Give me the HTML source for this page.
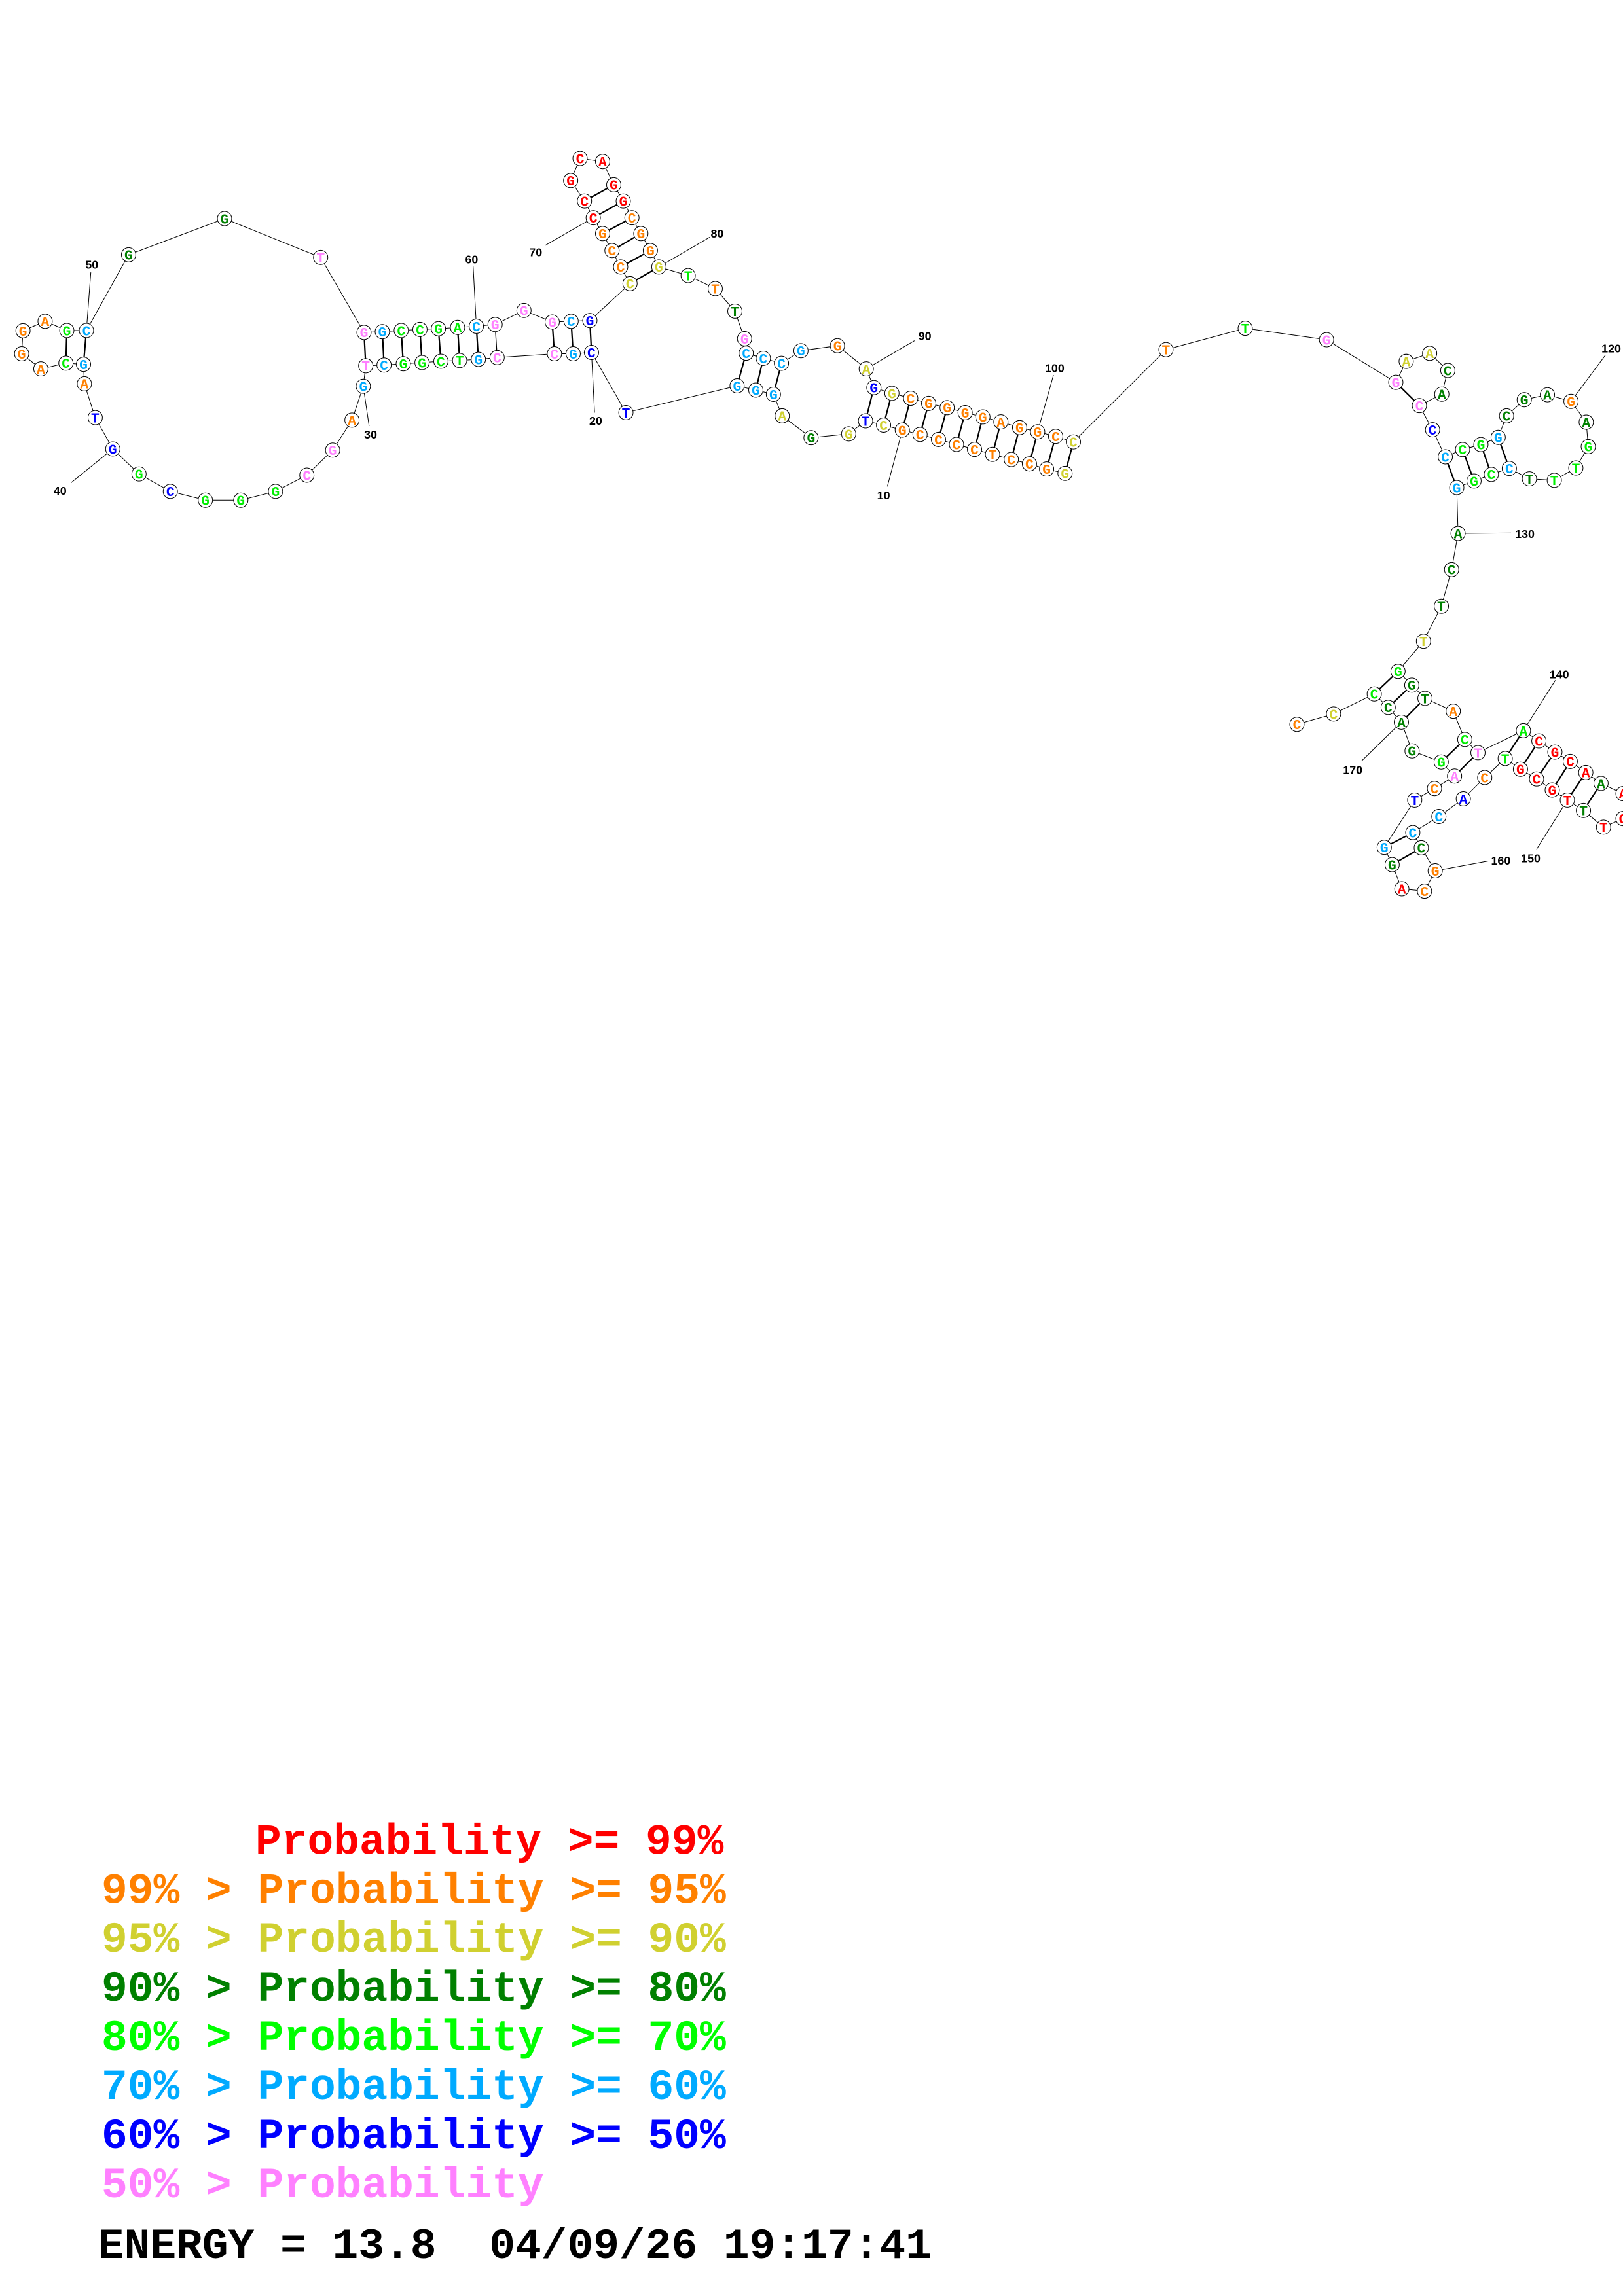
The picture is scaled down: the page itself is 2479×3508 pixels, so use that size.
<!DOCTYPE html>
<html><head><meta charset="utf-8"><style>
html,body{margin:0;padding:0;background:#fff;}
svg{display:block;}
.n circle{fill:#fff;stroke:#000;stroke-width:0.45;}
.n text{font-family:"Liberation Mono",monospace;font-weight:bold;font-size:9.5px;text-anchor:middle;}
.R{fill:#ff0000}.O{fill:#ff8000}.Y{fill:#d0d030}.D{fill:#008000}.L{fill:#00ee00}.B{fill:#00aaff}.N{fill:#0000ff}.P{fill:#ff80ff}
.lab{font-family:"Liberation Sans",sans-serif;font-weight:bold;font-size:8px;fill:#000;text-anchor:middle;}
.lg{font-family:"Liberation Mono",monospace;font-weight:bold;font-size:29.6px;}
</style></head><body>
<svg width="2479" height="3508" viewBox="0 0 1108 1568" preserveAspectRatio="none" xmlns="http://www.w3.org/2000/svg">
<rect width="1108" height="1568" fill="#fff"/>
<polyline fill="none" stroke="#000" stroke-width="0.45" points="727.1,323.3 714.5,320.3 702.8,316.8 690.4,313.8 677.6,310.3 665.3,306.9 653,303.5 640.7,300.1 628.1,296.7 616,293.7 603.2,290.3 590.9,287.4 579.4,296.3 553.7,298.9 534,284 528,269.3 516,266.4 503.2,263.5 427.3,281.8 403.8,240.7 391.3,241.6 378.5,241.6 339.4,244.2 326.6,245.4 313.8,246.2 301,246.7 288.1,247.6 275.3,248.4 262.2,249.3 249.7,249.8 248,263.8 240.3,286.9 227.1,307.4 209.5,324.5 188.1,335.6 164.4,341.6 140.2,341.6 116.3,335.6 94.9,323.7 77,306.6 65,285.2 57.6,262.1 57,248.8 45,248 27.9,251.9 14.8,241.6 15.7,225.9 30.8,219.4 45.6,225.7 59,225.7 87.8,174 153.3,149.3 218.9,175.8 248.5,227 261,226.5 273.9,225.7 286.7,225 299.3,224.5 312.4,223.6 325.2,222.8 338,221.6 357.7,212 377,219.9 389.9,219.4 402.7,218.9 430.1,193.7 423.7,182.3 417.8,171.1 411.4,159.5 405,148.7 399,137.3 389.6,123.3 396,108.2 411.4,110.3 419,126.2 425.5,137.3 431.4,148.7 437.5,159.5 444,171.1 449.8,182.3 469.8,188.2 488.3,197.1 501.7,212.5 508.3,231.3 509.4,241.2 521.1,244.7 533.5,248.1 546.8,239.5 571.7,236.1 591.4,251.9 596.6,264.7 608.9,268.6 621.7,272 634,275.5 646.6,278.4 658.9,281.8 671,284.7 683.3,288.1 696.1,292 708.4,294.9 720.7,298 732.8,301.8 796,238.8 850.1,224.2 905.6,232 952.9,261.1 960,246.8 976,241.3 988.4,253 984.3,269.2 969,277 978,293.5 986.7,312 998.5,307 1011,303.6 1022.8,298.7 1028.5,284 1040.6,273 1056.4,269.6 1072.5,274.1 1082.9,288.3 1084.3,305 1075.8,319.6 1061.1,328 1044.1,327 1030.4,319.9 1018.1,324 1006.3,328.5 994.5,333 995.4,364.3 991,389 984,414 971.8,437.9 954.4,458.5 963.8,467.9 972.8,476.9 992.1,485.7 1000,505 1009,514 1040,499 1050.6,506 1061.5,513.6 1072,520 1082.6,527.6 1093,535 1108,542 1112,552 1108,559 1094.7,564.9 1081,553.5 1070,546.4 1059.7,539.5 1049,532 1038,525.3 1027.6,518 1013.6,531 999,545.5 982.3,557.6 964.5,568.6 970.3,579 979.8,594.7 972.5,608.6 957,607 950.4,590.5 945,578.7 965.8,546.4 979.3,538.5 993,530 983.9,520.4 964,512.8 956.7,493.2 947.7,483.1 938.2,473.9 910.4,487.6 885.4,494.7"/>
<g stroke="#000" stroke-width="1">
<line x1="732.8" y1="301.8" x2="727.1" y2="323.3"/><line x1="720.7" y1="298" x2="714.5" y2="320.3"/><line x1="708.4" y1="294.9" x2="702.8" y2="316.8"/><line x1="696.1" y1="292" x2="690.4" y2="313.8"/><line x1="683.3" y1="288.1" x2="677.6" y2="310.3"/><line x1="671" y1="284.7" x2="665.3" y2="306.9"/><line x1="658.9" y1="281.8" x2="653" y2="303.5"/><line x1="646.6" y1="278.4" x2="640.7" y2="300.1"/><line x1="634" y1="275.5" x2="628.1" y2="296.7"/><line x1="621.7" y1="272" x2="616" y2="293.7"/><line x1="608.9" y1="268.6" x2="603.2" y2="290.3"/><line x1="596.6" y1="264.7" x2="590.9" y2="287.4"/>
<line x1="509.4" y1="241.2" x2="503.2" y2="263.5"/><line x1="521.1" y1="244.7" x2="516" y2="266.4"/><line x1="533.5" y1="248.1" x2="528" y2="269.3"/>
<line x1="402.7" y1="218.9" x2="403.8" y2="240.7"/><line x1="389.9" y1="219.4" x2="391.3" y2="241.6"/><line x1="377" y1="219.9" x2="378.5" y2="241.6"/>
<line x1="338" y1="221.6" x2="339.4" y2="244.2" stroke-width="0.6"/><line x1="325.2" y1="222.8" x2="326.6" y2="245.4"/><line x1="312.4" y1="223.6" x2="313.8" y2="246.2"/><line x1="299.3" y1="224.5" x2="301" y2="246.7"/><line x1="286.7" y1="225" x2="288.1" y2="247.6"/><line x1="273.9" y1="225.7" x2="275.3" y2="248.4"/><line x1="261" y1="226.5" x2="262.2" y2="249.3"/><line x1="248.5" y1="227" x2="249.7" y2="249.8"/>
<line x1="45.6" y1="225.7" x2="45" y2="248"/><line x1="59" y1="225.7" x2="57" y2="248.8"/>
<line x1="399" y1="137.3" x2="419" y2="126.2"/><line x1="405" y1="148.7" x2="425.5" y2="137.3"/><line x1="411.4" y1="159.5" x2="431.4" y2="148.7"/><line x1="417.8" y1="171.1" x2="437.5" y2="159.5"/><line x1="423.7" y1="182.3" x2="444" y2="171.1"/><line x1="430.1" y1="193.7" x2="449.8" y2="182.3"/>
<line x1="952.9" y1="261.1" x2="969" y2="277"/>
<line x1="986.7" y1="312" x2="994.5" y2="333"/><line x1="998.5" y1="307" x2="1006.3" y2="328.5"/><line x1="1011" y1="303.6" x2="1018.1" y2="324"/><line x1="1022.8" y1="298.7" x2="1030.4" y2="319.9"/>
<line x1="954.4" y1="458.5" x2="938.2" y2="473.9"/><line x1="963.8" y1="467.9" x2="947.7" y2="483.1"/><line x1="972.8" y1="476.9" x2="956.7" y2="493.2"/>
<line x1="1000" y1="505" x2="983.9" y2="520.4"/><line x1="1009" y1="514" x2="993" y2="530"/>
<line x1="1040" y1="499" x2="1027.6" y2="518"/><line x1="1050.6" y1="506" x2="1038" y2="525.3"/><line x1="1061.5" y1="513.6" x2="1049" y2="532"/><line x1="1072" y1="520" x2="1059.7" y2="539.5"/><line x1="1082.6" y1="527.6" x2="1070" y2="546.4"/><line x1="1093" y1="535" x2="1081" y2="553.5"/>
<line x1="964.5" y1="568.6" x2="945" y2="578.7"/><line x1="970.3" y1="579" x2="950.4" y2="590.5"/>
</g>
<g stroke="#000" stroke-width="0.45">
<line x1="59" y1="225.7" x2="62" y2="186"/><line x1="77" y1="306.6" x2="48.5" y2="329.7"/><line x1="248" y1="263.8" x2="252" y2="291"/><line x1="325.2" y1="222.8" x2="323" y2="181.7"/><line x1="405" y1="148.7" x2="372" y2="167.7"/><line x1="403.8" y1="240.7" x2="405.9" y2="281.8"/><line x1="449.8" y1="182.3" x2="484.5" y2="162"/><line x1="591.4" y1="251.9" x2="624.3" y2="232.7"/><line x1="708.4" y1="294.9" x2="719.2" y2="256.1"/><line x1="616" y1="293.7" x2="605.8" y2="332.2"/><line x1="1072.5" y1="274.1" x2="1096" y2="242.5"/><line x1="995.4" y1="364.3" x2="1031.6" y2="364"/><line x1="1040" y1="499" x2="1061.8" y2="464.6"/><line x1="956.7" y1="493.2" x2="929.6" y2="519.6"/><line x1="979.8" y1="594.7" x2="1016" y2="588"/><line x1="1070" y1="546.4" x2="1049" y2="580"/>
</g>
<g class="lab">
<text x="62.7" y="183.5">50</text><text x="41" y="338">40</text><text x="253" y="299.5">30</text><text x="322" y="180">60</text><text x="365.7" y="175">70</text><text x="406.7" y="290">20</text><text x="489.6" y="162.2">80</text><text x="631.4" y="232.3">90</text><text x="720" y="254">100</text><text x="603.2" y="341">10</text><text x="1100" y="240.6">120</text><text x="1041" y="367.5">130</text><text x="1064.5" y="463.3">140</text><text x="923.5" y="528.6">170</text><text x="1024.6" y="590.5">160</text><text x="1045" y="589">150</text>
</g>
<g class="n">
<g><circle cx="727.1" cy="323.3" r="4.9"/><text x="727.1" y="326.6" class="Y">G</text></g>
<g><circle cx="714.5" cy="320.3" r="4.9"/><text x="714.5" y="323.6" class="O">G</text></g>
<g><circle cx="702.8" cy="316.8" r="4.9"/><text x="702.8" y="320.1" class="O">C</text></g>
<g><circle cx="690.4" cy="313.8" r="4.9"/><text x="690.4" y="317.1" class="O">C</text></g>
<g><circle cx="677.6" cy="310.3" r="4.9"/><text x="677.6" y="313.6" class="O">T</text></g>
<g><circle cx="665.3" cy="306.9" r="4.9"/><text x="665.3" y="310.2" class="O">C</text></g>
<g><circle cx="653" cy="303.5" r="4.9"/><text x="653" y="306.8" class="O">C</text></g>
<g><circle cx="640.7" cy="300.1" r="4.9"/><text x="640.7" y="303.4" class="O">C</text></g>
<g><circle cx="628.1" cy="296.7" r="4.9"/><text x="628.1" y="300" class="O">C</text></g>
<g><circle cx="616" cy="293.7" r="4.9"/><text x="616" y="297" class="O">G</text></g>
<g><circle cx="603.2" cy="290.3" r="4.9"/><text x="603.2" y="293.6" class="Y">C</text></g>
<g><circle cx="590.9" cy="287.4" r="4.9"/><text x="590.9" y="290.7" class="N">T</text></g>
<g><circle cx="579.4" cy="296.3" r="4.9"/><text x="579.4" y="299.6" class="Y">G</text></g>
<g><circle cx="553.7" cy="298.9" r="4.9"/><text x="553.7" y="302.2" class="D">G</text></g>
<g><circle cx="534" cy="284" r="4.9"/><text x="534" y="287.3" class="Y">A</text></g>
<g><circle cx="528" cy="269.3" r="4.9"/><text x="528" y="272.6" class="B">G</text></g>
<g><circle cx="516" cy="266.4" r="4.9"/><text x="516" y="269.7" class="B">G</text></g>
<g><circle cx="503.2" cy="263.5" r="4.9"/><text x="503.2" y="266.8" class="B">G</text></g>
<g><circle cx="427.3" cy="281.8" r="4.9"/><text x="427.3" y="285.1" class="N">T</text></g>
<g><circle cx="403.8" cy="240.7" r="4.9"/><text x="403.8" y="244" class="N">C</text></g>
<g><circle cx="391.3" cy="241.6" r="4.9"/><text x="391.3" y="244.9" class="B">G</text></g>
<g><circle cx="378.5" cy="241.6" r="4.9"/><text x="378.5" y="244.9" class="P">C</text></g>
<g><circle cx="339.4" cy="244.2" r="4.9"/><text x="339.4" y="247.5" class="P">C</text></g>
<g><circle cx="326.6" cy="245.4" r="4.9"/><text x="326.6" y="248.7" class="B">G</text></g>
<g><circle cx="313.8" cy="246.2" r="4.9"/><text x="313.8" y="249.5" class="L">T</text></g>
<g><circle cx="301" cy="246.7" r="4.9"/><text x="301" y="250" class="L">C</text></g>
<g><circle cx="288.1" cy="247.6" r="4.9"/><text x="288.1" y="250.9" class="L">G</text></g>
<g><circle cx="275.3" cy="248.4" r="4.9"/><text x="275.3" y="251.7" class="L">G</text></g>
<g><circle cx="262.2" cy="249.3" r="4.9"/><text x="262.2" y="252.6" class="B">C</text></g>
<g><circle cx="249.7" cy="249.8" r="4.9"/><text x="249.7" y="253.1" class="P">T</text></g>
<g><circle cx="248" cy="263.8" r="4.9"/><text x="248" y="267.1" class="B">G</text></g>
<g><circle cx="240.3" cy="286.9" r="4.9"/><text x="240.3" y="290.2" class="O">A</text></g>
<g><circle cx="227.1" cy="307.4" r="4.9"/><text x="227.1" y="310.7" class="P">G</text></g>
<g><circle cx="209.5" cy="324.5" r="4.9"/><text x="209.5" y="327.8" class="P">C</text></g>
<g><circle cx="188.1" cy="335.6" r="4.9"/><text x="188.1" y="338.9" class="L">G</text></g>
<g><circle cx="164.4" cy="341.6" r="4.9"/><text x="164.4" y="344.9" class="L">G</text></g>
<g><circle cx="140.2" cy="341.6" r="4.9"/><text x="140.2" y="344.9" class="L">G</text></g>
<g><circle cx="116.3" cy="335.6" r="4.9"/><text x="116.3" y="338.9" class="N">C</text></g>
<g><circle cx="94.9" cy="323.7" r="4.9"/><text x="94.9" y="327" class="L">G</text></g>
<g><circle cx="77" cy="306.6" r="4.9"/><text x="77" y="309.9" class="N">G</text></g>
<g><circle cx="65" cy="285.2" r="4.9"/><text x="65" y="288.5" class="N">T</text></g>
<g><circle cx="57.6" cy="262.1" r="4.9"/><text x="57.6" y="265.4" class="O">A</text></g>
<g><circle cx="57" cy="248.8" r="4.9"/><text x="57" y="252.1" class="B">G</text></g>
<g><circle cx="45" cy="248" r="4.9"/><text x="45" y="251.3" class="L">C</text></g>
<g><circle cx="27.9" cy="251.9" r="4.9"/><text x="27.9" y="255.2" class="O">A</text></g>
<g><circle cx="14.8" cy="241.6" r="4.9"/><text x="14.8" y="244.9" class="O">G</text></g>
<g><circle cx="15.7" cy="225.9" r="4.9"/><text x="15.7" y="229.2" class="O">G</text></g>
<g><circle cx="30.8" cy="219.4" r="4.9"/><text x="30.8" y="222.7" class="O">A</text></g>
<g><circle cx="45.6" cy="225.7" r="4.9"/><text x="45.6" y="229" class="L">G</text></g>
<g><circle cx="59" cy="225.7" r="4.9"/><text x="59" y="229" class="B">C</text></g>
<g><circle cx="87.8" cy="174" r="4.9"/><text x="87.8" y="177.3" class="D">G</text></g>
<g><circle cx="153.3" cy="149.3" r="4.9"/><text x="153.3" y="152.6" class="D">G</text></g>
<g><circle cx="218.9" cy="175.8" r="4.9"/><text x="218.9" y="179.1" class="P">T</text></g>
<g><circle cx="248.5" cy="227" r="4.9"/><text x="248.5" y="230.3" class="P">G</text></g>
<g><circle cx="261" cy="226.5" r="4.9"/><text x="261" y="229.8" class="B">G</text></g>
<g><circle cx="273.9" cy="225.7" r="4.9"/><text x="273.9" y="229" class="L">C</text></g>
<g><circle cx="286.7" cy="225" r="4.9"/><text x="286.7" y="228.3" class="L">C</text></g>
<g><circle cx="299.3" cy="224.5" r="4.9"/><text x="299.3" y="227.8" class="L">G</text></g>
<g><circle cx="312.4" cy="223.6" r="4.9"/><text x="312.4" y="226.9" class="L">A</text></g>
<g><circle cx="325.2" cy="222.8" r="4.9"/><text x="325.2" y="226.1" class="B">C</text></g>
<g><circle cx="338" cy="221.6" r="4.9"/><text x="338" y="224.9" class="P">G</text></g>
<g><circle cx="357.7" cy="212" r="4.9"/><text x="357.7" y="215.3" class="P">G</text></g>
<g><circle cx="377" cy="219.9" r="4.9"/><text x="377" y="223.2" class="P">G</text></g>
<g><circle cx="389.9" cy="219.4" r="4.9"/><text x="389.9" y="222.7" class="B">C</text></g>
<g><circle cx="402.7" cy="218.9" r="4.9"/><text x="402.7" y="222.2" class="N">G</text></g>
<g><circle cx="430.1" cy="193.7" r="4.9"/><text x="430.1" y="197" class="Y">C</text></g>
<g><circle cx="423.7" cy="182.3" r="4.9"/><text x="423.7" y="185.6" class="O">C</text></g>
<g><circle cx="417.8" cy="171.1" r="4.9"/><text x="417.8" y="174.4" class="O">C</text></g>
<g><circle cx="411.4" cy="159.5" r="4.9"/><text x="411.4" y="162.8" class="O">G</text></g>
<g><circle cx="405" cy="148.7" r="4.9"/><text x="405" y="152" class="R">C</text></g>
<g><circle cx="399" cy="137.3" r="4.9"/><text x="399" y="140.6" class="R">C</text></g>
<g><circle cx="389.6" cy="123.3" r="4.9"/><text x="389.6" y="126.6" class="R">G</text></g>
<g><circle cx="396" cy="108.2" r="4.9"/><text x="396" y="111.5" class="R">C</text></g>
<g><circle cx="411.4" cy="110.3" r="4.9"/><text x="411.4" y="113.6" class="R">A</text></g>
<g><circle cx="419" cy="126.2" r="4.9"/><text x="419" y="129.5" class="R">G</text></g>
<g><circle cx="425.5" cy="137.3" r="4.9"/><text x="425.5" y="140.6" class="R">G</text></g>
<g><circle cx="431.4" cy="148.7" r="4.9"/><text x="431.4" y="152" class="O">C</text></g>
<g><circle cx="437.5" cy="159.5" r="4.9"/><text x="437.5" y="162.8" class="O">G</text></g>
<g><circle cx="444" cy="171.1" r="4.9"/><text x="444" y="174.4" class="O">G</text></g>
<g><circle cx="449.8" cy="182.3" r="4.9"/><text x="449.8" y="185.6" class="Y">G</text></g>
<g><circle cx="469.8" cy="188.2" r="4.9"/><text x="469.8" y="191.5" class="L">T</text></g>
<g><circle cx="488.3" cy="197.1" r="4.9"/><text x="488.3" y="200.4" class="O">T</text></g>
<g><circle cx="501.7" cy="212.5" r="4.9"/><text x="501.7" y="215.8" class="D">T</text></g>
<g><circle cx="508.3" cy="231.3" r="4.9"/><text x="508.3" y="234.6" class="P">G</text></g>
<g><circle cx="509.4" cy="241.2" r="4.9"/><text x="509.4" y="244.5" class="B">C</text></g>
<g><circle cx="521.1" cy="244.7" r="4.9"/><text x="521.1" y="248" class="B">C</text></g>
<g><circle cx="533.5" cy="248.1" r="4.9"/><text x="533.5" y="251.4" class="B">C</text></g>
<g><circle cx="546.8" cy="239.5" r="4.9"/><text x="546.8" y="242.8" class="B">G</text></g>
<g><circle cx="571.7" cy="236.1" r="4.9"/><text x="571.7" y="239.4" class="O">G</text></g>
<g><circle cx="591.4" cy="251.9" r="4.9"/><text x="591.4" y="255.2" class="Y">A</text></g>
<g><circle cx="596.6" cy="264.7" r="4.9"/><text x="596.6" y="268" class="N">G</text></g>
<g><circle cx="608.9" cy="268.6" r="4.9"/><text x="608.9" y="271.9" class="Y">G</text></g>
<g><circle cx="621.7" cy="272" r="4.9"/><text x="621.7" y="275.3" class="O">C</text></g>
<g><circle cx="634" cy="275.5" r="4.9"/><text x="634" y="278.8" class="O">G</text></g>
<g><circle cx="646.6" cy="278.4" r="4.9"/><text x="646.6" y="281.7" class="O">G</text></g>
<g><circle cx="658.9" cy="281.8" r="4.9"/><text x="658.9" y="285.1" class="O">G</text></g>
<g><circle cx="671" cy="284.7" r="4.9"/><text x="671" y="288" class="O">G</text></g>
<g><circle cx="683.3" cy="288.1" r="4.9"/><text x="683.3" y="291.4" class="O">A</text></g>
<g><circle cx="696.1" cy="292" r="4.9"/><text x="696.1" y="295.3" class="O">G</text></g>
<g><circle cx="708.4" cy="294.9" r="4.9"/><text x="708.4" y="298.2" class="O">G</text></g>
<g><circle cx="720.7" cy="298" r="4.9"/><text x="720.7" y="301.3" class="O">C</text></g>
<g><circle cx="732.8" cy="301.8" r="4.9"/><text x="732.8" y="305.1" class="Y">C</text></g>
<g><circle cx="796" cy="238.8" r="4.9"/><text x="796" y="242.1" class="O">T</text></g>
<g><circle cx="850.1" cy="224.2" r="4.9"/><text x="850.1" y="227.5" class="L">T</text></g>
<g><circle cx="905.6" cy="232" r="4.9"/><text x="905.6" y="235.3" class="P">G</text></g>
<g><circle cx="952.9" cy="261.1" r="4.9"/><text x="952.9" y="264.4" class="P">G</text></g>
<g><circle cx="960" cy="246.8" r="4.9"/><text x="960" y="250.1" class="Y">A</text></g>
<g><circle cx="976" cy="241.3" r="4.9"/><text x="976" y="244.6" class="Y">A</text></g>
<g><circle cx="988.4" cy="253" r="4.9"/><text x="988.4" y="256.3" class="D">C</text></g>
<g><circle cx="984.3" cy="269.2" r="4.9"/><text x="984.3" y="272.5" class="D">A</text></g>
<g><circle cx="969" cy="277" r="4.9"/><text x="969" y="280.3" class="P">C</text></g>
<g><circle cx="978" cy="293.5" r="4.9"/><text x="978" y="296.8" class="N">C</text></g>
<g><circle cx="986.7" cy="312" r="4.9"/><text x="986.7" y="315.3" class="B">C</text></g>
<g><circle cx="998.5" cy="307" r="4.9"/><text x="998.5" y="310.3" class="L">C</text></g>
<g><circle cx="1011" cy="303.6" r="4.9"/><text x="1011" y="306.9" class="L">G</text></g>
<g><circle cx="1022.8" cy="298.7" r="4.9"/><text x="1022.8" y="302" class="B">G</text></g>
<g><circle cx="1028.5" cy="284" r="4.9"/><text x="1028.5" y="287.3" class="D">C</text></g>
<g><circle cx="1040.6" cy="273" r="4.9"/><text x="1040.6" y="276.3" class="D">G</text></g>
<g><circle cx="1056.4" cy="269.6" r="4.9"/><text x="1056.4" y="272.9" class="D">A</text></g>
<g><circle cx="1072.5" cy="274.1" r="4.9"/><text x="1072.5" y="277.4" class="O">G</text></g>
<g><circle cx="1082.9" cy="288.3" r="4.9"/><text x="1082.9" y="291.6" class="D">A</text></g>
<g><circle cx="1084.3" cy="305" r="4.9"/><text x="1084.3" y="308.3" class="L">G</text></g>
<g><circle cx="1075.8" cy="319.6" r="4.9"/><text x="1075.8" y="322.9" class="L">T</text></g>
<g><circle cx="1061.1" cy="328" r="4.9"/><text x="1061.1" y="331.3" class="L">T</text></g>
<g><circle cx="1044.1" cy="327" r="4.9"/><text x="1044.1" y="330.3" class="D">T</text></g>
<g><circle cx="1030.4" cy="319.9" r="4.9"/><text x="1030.4" y="323.2" class="B">C</text></g>
<g><circle cx="1018.1" cy="324" r="4.9"/><text x="1018.1" y="327.3" class="L">C</text></g>
<g><circle cx="1006.3" cy="328.5" r="4.9"/><text x="1006.3" y="331.8" class="L">G</text></g>
<g><circle cx="994.5" cy="333" r="4.9"/><text x="994.5" y="336.3" class="B">G</text></g>
<g><circle cx="995.4" cy="364.3" r="4.9"/><text x="995.4" y="367.6" class="D">A</text></g>
<g><circle cx="991" cy="389" r="4.9"/><text x="991" y="392.3" class="D">C</text></g>
<g><circle cx="984" cy="414" r="4.9"/><text x="984" y="417.3" class="D">T</text></g>
<g><circle cx="971.8" cy="437.9" r="4.9"/><text x="971.8" y="441.2" class="Y">T</text></g>
<g><circle cx="954.4" cy="458.5" r="4.9"/><text x="954.4" y="461.8" class="L">G</text></g>
<g><circle cx="963.8" cy="467.9" r="4.9"/><text x="963.8" y="471.2" class="D">G</text></g>
<g><circle cx="972.8" cy="476.9" r="4.9"/><text x="972.8" y="480.2" class="D">T</text></g>
<g><circle cx="992.1" cy="485.7" r="4.9"/><text x="992.1" y="489" class="O">A</text></g>
<g><circle cx="1000" cy="505" r="4.9"/><text x="1000" y="508.3" class="L">C</text></g>
<g><circle cx="1009" cy="514" r="4.9"/><text x="1009" y="517.3" class="P">T</text></g>
<g><circle cx="1040" cy="499" r="4.9"/><text x="1040" y="502.3" class="L">A</text></g>
<g><circle cx="1050.6" cy="506" r="4.9"/><text x="1050.6" y="509.3" class="R">C</text></g>
<g><circle cx="1061.5" cy="513.6" r="4.9"/><text x="1061.5" y="516.9" class="R">G</text></g>
<g><circle cx="1072" cy="520" r="4.9"/><text x="1072" y="523.3" class="R">C</text></g>
<g><circle cx="1082.6" cy="527.6" r="4.9"/><text x="1082.6" y="530.9" class="R">A</text></g>
<g><circle cx="1093" cy="535" r="4.9"/><text x="1093" y="538.3" class="D">A</text></g>
<g><circle cx="1108" cy="542" r="4.9"/><text x="1108" y="545.3" class="R">A</text></g>
<g><circle cx="1108" cy="559" r="4.9"/><text x="1108" y="562.3" class="R">C</text></g>
<g><circle cx="1094.7" cy="564.9" r="4.9"/><text x="1094.7" y="568.2" class="R">T</text></g>
<g><circle cx="1081" cy="553.5" r="4.9"/><text x="1081" y="556.8" class="D">T</text></g>
<g><circle cx="1070" cy="546.4" r="4.9"/><text x="1070" y="549.7" class="R">T</text></g>
<g><circle cx="1059.7" cy="539.5" r="4.9"/><text x="1059.7" y="542.8" class="R">G</text></g>
<g><circle cx="1049" cy="532" r="4.9"/><text x="1049" y="535.3" class="R">C</text></g>
<g><circle cx="1038" cy="525.3" r="4.9"/><text x="1038" y="528.6" class="R">G</text></g>
<g><circle cx="1027.6" cy="518" r="4.9"/><text x="1027.6" y="521.3" class="L">T</text></g>
<g><circle cx="1013.6" cy="531" r="4.9"/><text x="1013.6" y="534.3" class="O">C</text></g>
<g><circle cx="999" cy="545.5" r="4.9"/><text x="999" y="548.8" class="N">A</text></g>
<g><circle cx="982.3" cy="557.6" r="4.9"/><text x="982.3" y="560.9" class="B">C</text></g>
<g><circle cx="964.5" cy="568.6" r="4.9"/><text x="964.5" y="571.9" class="B">C</text></g>
<g><circle cx="970.3" cy="579" r="4.9"/><text x="970.3" y="582.3" class="D">C</text></g>
<g><circle cx="979.8" cy="594.7" r="4.9"/><text x="979.8" y="598" class="O">G</text></g>
<g><circle cx="972.5" cy="608.6" r="4.9"/><text x="972.5" y="611.9" class="O">C</text></g>
<g><circle cx="957" cy="607" r="4.9"/><text x="957" y="610.3" class="R">A</text></g>
<g><circle cx="950.4" cy="590.5" r="4.9"/><text x="950.4" y="593.8" class="D">G</text></g>
<g><circle cx="945" cy="578.7" r="4.9"/><text x="945" y="582" class="B">G</text></g>
<g><circle cx="965.8" cy="546.4" r="4.9"/><text x="965.8" y="549.7" class="N">T</text></g>
<g><circle cx="979.3" cy="538.5" r="4.9"/><text x="979.3" y="541.8" class="O">C</text></g>
<g><circle cx="993" cy="530" r="4.9"/><text x="993" y="533.3" class="P">A</text></g>
<g><circle cx="983.9" cy="520.4" r="4.9"/><text x="983.9" y="523.7" class="L">G</text></g>
<g><circle cx="964" cy="512.8" r="4.9"/><text x="964" y="516.1" class="D">G</text></g>
<g><circle cx="956.7" cy="493.2" r="4.9"/><text x="956.7" y="496.5" class="D">A</text></g>
<g><circle cx="947.7" cy="483.1" r="4.9"/><text x="947.7" y="486.4" class="D">C</text></g>
<g><circle cx="938.2" cy="473.9" r="4.9"/><text x="938.2" y="477.2" class="L">C</text></g>
<g><circle cx="910.4" cy="487.6" r="4.9"/><text x="910.4" y="490.9" class="Y">C</text></g>
<g><circle cx="885.4" cy="494.7" r="4.9"/><text x="885.4" y="498" class="O">C</text></g>
</g>
<g class="lg">
<text x="174.3" y="1266" fill="#ff0000">Probability &gt;= 99%</text>
<text x="69.3" y="1299.5" fill="#ff8000">99% &gt; Probability &gt;= 95%</text>
<text x="69.3" y="1333" fill="#d0d030">95% &gt; Probability &gt;= 90%</text>
<text x="69.3" y="1366.5" fill="#008000">90% &gt; Probability &gt;= 80%</text>
<text x="69.3" y="1400" fill="#00ff00">80% &gt; Probability &gt;= 70%</text>
<text x="69.3" y="1433.5" fill="#00aaff">70% &gt; Probability &gt;= 60%</text>
<text x="69.3" y="1467" fill="#0000ff">60% &gt; Probability &gt;= 50%</text>
<text x="69.3" y="1500.5" fill="#ff80ff">50% &gt; Probability</text>
<text x="67" y="1542" fill="#000000">ENERGY = 13.8</text>
<text x="334" y="1542" fill="#000000">04/09/26 19:17:41</text>
</g>
</svg>
</body></html>
